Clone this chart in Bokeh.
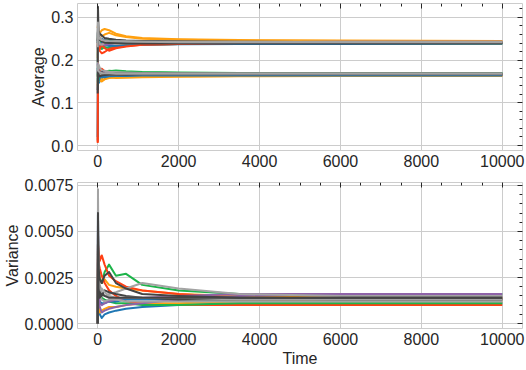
from bokeh.plotting import figure
from bokeh.layouts import column
from bokeh.models import Range1d, FixedTicker, LinearAxis, PrintfTickFormatter
from bokeh.embed import file_html
from bokeh.resources import INLINE

# ---------------- data ----------------
time = [0, 6, 20, 50, 100, 170, 280, 450, 700, 1100, 2000, 3500, 6000, 10000]

x_ticks = [0, 2000, 4000, 6000, 8000, 10000]
avg_ticks = [0.0, 0.1, 0.2, 0.3]
var_ticks = [0.0, 0.0025, 0.005, 0.0075]

BLUE, ORANGE, GREEN, RED, PURPLE, GREY, DARK = (
    "#1f77b4", "#ffa010", "#1db44a", "#ff3f14", "#8e63a8", "#a3a3a3", "#444444")

# upper branch of the running averages
hi_1  = [0.012, 0.262, 0.248, 0.236, 0.232, 0.238, 0.236, 0.240, 0.238, 0.239, 0.240, 0.241, 0.241, 0.241]
hi_2  = [0.205, 0.255, 0.268, 0.264, 0.270, 0.273, 0.270, 0.262, 0.256, 0.252, 0.249, 0.247, 0.246, 0.245]
hi_3  = [0.160, 0.232, 0.228, 0.240, 0.226, 0.231, 0.228, 0.233, 0.236, 0.236, 0.238, 0.239, 0.239, 0.239]
hi_4  = [0.008, 0.214, 0.238, 0.222, 0.216, 0.219, 0.226, 0.230, 0.233, 0.236, 0.238, 0.239, 0.240, 0.240]
hi_5  = [0.265, 0.245, 0.258, 0.250, 0.244, 0.248, 0.246, 0.244, 0.243, 0.244, 0.243, 0.244, 0.243, 0.243]
hi_6  = [0.275, 0.282, 0.258, 0.262, 0.256, 0.260, 0.264, 0.258, 0.254, 0.250, 0.248, 0.246, 0.245, 0.244]
hi_7  = [0.225, 0.236, 0.252, 0.246, 0.240, 0.236, 0.233, 0.234, 0.235, 0.236, 0.237, 0.238, 0.238, 0.239]
hi_8  = [0.240, 0.270, 0.250, 0.242, 0.248, 0.245, 0.247, 0.244, 0.242, 0.242, 0.241, 0.240, 0.240, 0.240]
hi_9  = [0.230, 0.252, 0.230, 0.226, 0.236, 0.228, 0.222, 0.228, 0.232, 0.236, 0.238, 0.240, 0.241, 0.241]
hi_10 = [0.250, 0.228, 0.240, 0.236, 0.238, 0.235, 0.238, 0.240, 0.241, 0.242, 0.242, 0.242, 0.243, 0.243]
hi_11 = [0.240, 0.250, 0.242, 0.252, 0.250, 0.246, 0.244, 0.242, 0.242, 0.241, 0.241, 0.240, 0.240, 0.240]
hi_12 = [0.185, 0.302, 0.262, 0.255, 0.247, 0.243, 0.240, 0.238, 0.239, 0.240, 0.241, 0.241, 0.241, 0.242]
hi_13 = [0.245, 0.325, 0.268, 0.262, 0.258, 0.252, 0.250, 0.248, 0.246, 0.245, 0.244, 0.243, 0.242, 0.242]
hi_14 = [0.210, 0.288, 0.246, 0.238, 0.236, 0.240, 0.242, 0.244, 0.243, 0.243, 0.243, 0.243, 0.243, 0.243]
hi_15 = [0.195, 0.262, 0.254, 0.248, 0.244, 0.241, 0.240, 0.240, 0.239, 0.239, 0.239, 0.239, 0.239, 0.239]
hi_16 = [0.230, 0.275, 0.255, 0.250, 0.247, 0.246, 0.245, 0.244, 0.244, 0.243, 0.242, 0.242, 0.242, 0.242]

# lower branch of the running averages
lo_1  = [0.020, 0.152, 0.146, 0.150, 0.158, 0.162, 0.164, 0.165, 0.166, 0.166, 0.167, 0.167, 0.167, 0.167]
lo_2  = [0.162, 0.172, 0.160, 0.152, 0.150, 0.155, 0.158, 0.160, 0.161, 0.162, 0.162, 0.163, 0.163, 0.163]
lo_3  = [0.168, 0.158, 0.174, 0.176, 0.172, 0.170, 0.174, 0.176, 0.174, 0.172, 0.171, 0.170, 0.170, 0.170]
lo_4  = [0.006, 0.166, 0.184, 0.178, 0.180, 0.174, 0.172, 0.170, 0.169, 0.168, 0.168, 0.167, 0.167, 0.167]
lo_5  = [0.192, 0.178, 0.182, 0.172, 0.168, 0.166, 0.164, 0.165, 0.166, 0.166, 0.166, 0.166, 0.166, 0.166]
lo_6  = [0.140, 0.156, 0.164, 0.158, 0.154, 0.156, 0.160, 0.158, 0.159, 0.160, 0.161, 0.162, 0.163, 0.163]
lo_7  = [0.182, 0.168, 0.150, 0.158, 0.162, 0.164, 0.163, 0.164, 0.165, 0.165, 0.165, 0.165, 0.165, 0.165]
lo_8  = [0.158, 0.146, 0.160, 0.164, 0.168, 0.172, 0.175, 0.174, 0.172, 0.171, 0.170, 0.169, 0.169, 0.169]
lo_9  = [0.176, 0.174, 0.168, 0.176, 0.170, 0.166, 0.168, 0.167, 0.167, 0.166, 0.166, 0.166, 0.166, 0.166]
lo_10 = [0.170, 0.182, 0.176, 0.170, 0.174, 0.171, 0.170, 0.169, 0.169, 0.168, 0.168, 0.168, 0.168, 0.168]
lo_11 = [0.170, 0.162, 0.168, 0.166, 0.162, 0.160, 0.162, 0.163, 0.163, 0.164, 0.164, 0.164, 0.164, 0.164]
lo_12 = [0.150, 0.188, 0.190, 0.182, 0.176, 0.175, 0.173, 0.172, 0.171, 0.170, 0.169, 0.169, 0.169, 0.169]
lo_13 = [0.130, 0.160, 0.176, 0.170, 0.172, 0.168, 0.167, 0.168, 0.168, 0.168, 0.168, 0.168, 0.168, 0.168]
lo_14 = [0.160, 0.178, 0.172, 0.166, 0.168, 0.167, 0.166, 0.166, 0.167, 0.167, 0.167, 0.167, 0.167, 0.167]
lo_15 = [0.122, 0.172, 0.166, 0.162, 0.164, 0.165, 0.166, 0.166, 0.166, 0.167, 0.167, 0.167, 0.167, 0.167]
lo_16 = [0.175, 0.180, 0.174, 0.172, 0.170, 0.169, 0.169, 0.168, 0.168, 0.168, 0.168, 0.168, 0.168, 0.168]

# running variances
var_1  = [0, 0.0062, 0.0012, 0.0005, 0.0003, 0.0005, 0.0006, 0.0007, 0.0008, 0.0009, 0.0010, 0.0011, 0.0011, 0.0011]
var_2  = [0, 0.0040, 0.0032, 0.0025, 0.0022, 0.0024, 0.0021, 0.0020, 0.0019, 0.0018, 0.0016, 0.0015, 0.0014, 0.0014]
var_3  = [0, 0.0030, 0.0026, 0.0024, 0.0022, 0.0028, 0.0032, 0.0026, 0.0027, 0.0021, 0.0018, 0.0016, 0.0016, 0.0016]
var_4  = [0, 0.0043, 0.0040, 0.0034, 0.0037, 0.0032, 0.0026, 0.0023, 0.0020, 0.0018, 0.0016, 0.0014, 0.0013, 0.0013]
var_5  = [0, 0.0054, 0.0018, 0.0009, 0.0006, 0.0007, 0.0008, 0.0009, 0.0010, 0.0011, 0.0013, 0.0015, 0.0016, 0.0015]
var_6  = [0, 0.0036, 0.0033, 0.0030, 0.0026, 0.0022, 0.0018, 0.0015, 0.0012, 0.0011, 0.0010, 0.0010, 0.0010, 0.0010]
var_7  = [0, 0.0028, 0.0012, 0.0006, 0.0007, 0.0008, 0.0009, 0.0009, 0.0010, 0.0011, 0.0011, 0.0012, 0.0012, 0.0012]
var_8  = [0, 0.0024, 0.0019, 0.0016, 0.0014, 0.0013, 0.0012, 0.0011, 0.0011, 0.0010, 0.0010, 0.0011, 0.0011, 0.0011]
var_9  = [0, 0.0020, 0.0015, 0.0012, 0.0011, 0.0011, 0.0012, 0.0012, 0.0013, 0.0013, 0.0013, 0.0014, 0.0013, 0.0013]
var_10 = [0, 0.0034, 0.0016, 0.0011, 0.0010, 0.0011, 0.0012, 0.0013, 0.0014, 0.0014, 0.0015, 0.0016, 0.0016, 0.0016]
var_11 = [0, 0.0073, 0.0032, 0.0021, 0.0017, 0.0015, 0.0016, 0.0017, 0.0019, 0.0022, 0.0019, 0.0016, 0.0015, 0.0015]
var_12 = [0, 0.0060, 0.0024, 0.0017, 0.0015, 0.0018, 0.0017, 0.0016, 0.0015, 0.0014, 0.0013, 0.0013, 0.0013, 0.0013]
var_13 = [0, 0.0046, 0.0024, 0.0018, 0.0019, 0.0017, 0.0015, 0.0014, 0.0014, 0.0014, 0.0014, 0.0013, 0.0013, 0.0013]
var_14 = [0, 0.0050, 0.0030, 0.0024, 0.0022, 0.0026, 0.0028, 0.0022, 0.0019, 0.0016, 0.0015, 0.0014, 0.0014, 0.0014]
var_15 = [0, 0.0038, 0.0020, 0.0015, 0.0013, 0.0012, 0.0013, 0.0013, 0.0012, 0.0012, 0.0012, 0.0012, 0.0012, 0.0012]
var_16 = [0, 0.0044, 0.0019, 0.0014, 0.0016, 0.0015, 0.0014, 0.0014, 0.0014, 0.0014, 0.0014, 0.0014, 0.0014, 0.0014]

line_colors = [BLUE, ORANGE, GREEN, RED, PURPLE, ORANGE, BLUE, GREEN,
               RED, PURPLE, BLUE, GREY, DARK, GREY, DARK, GREY]
avg_hi = [hi_1, hi_2, hi_3, hi_4, hi_5, hi_6, hi_7, hi_8, hi_9, hi_10, hi_11, hi_12, hi_13, hi_14, hi_15, hi_16]
avg_lo = [lo_1, lo_2, lo_3, lo_4, lo_5, lo_6, lo_7, lo_8, lo_9, lo_10, lo_11, lo_12, lo_13, lo_14, lo_15, lo_16]
var_runs = [var_1, var_2, var_3, var_4, var_6, var_7, var_8, var_9, var_5, var_10, var_15,
            var_11, var_12, var_13, var_14, var_16]
var_colors = [BLUE, ORANGE, GREEN, RED, RED, ORANGE, GREEN, BLUE, PURPLE, PURPLE, GREY,
              GREY, DARK, GREY, DARK, DARK]

# ---------------- styling helpers ----------------
FONT = "Liberation Sans"
TXT = "#262626"
GRID = "#cccccc"
X_RANGE = (-500, 10500)

x_minor = [500 * k for k in range(0, 21)]
avg_minor = [round(0.02 * k, 2) for k in range(0, 17)]
var_minor = [round(0.0005 * k, 4) for k in range(0, 16)]


def tick_axis(ticks, minor, loc):
    # axis pinned to the frame edge; its outward ticks point into the frame
    return LinearAxis(
        fixed_location=loc,
        ticker=FixedTicker(ticks=ticks, minor_ticks=minor),
        axis_line_color=None,
        major_label_text_font_size="1px",
        major_label_text_color=None,
        major_label_standoff=0,
        major_tick_in=0, major_tick_out=5,
        minor_tick_in=0, minor_tick_out=3,
        major_tick_line_color=TXT, minor_tick_line_color=TXT,
        major_tick_line_width=1, minor_tick_line_width=1,
    )


def make_fig(height, yr, yticks, yminor, fmt, ylabel, btop, bbottom, xlabel=None):
    p = figure(width=526, height=height, output_backend="svg", toolbar_location=None,
               x_range=Range1d(*X_RANGE), y_range=Range1d(*yr),
               min_border_left=75, min_border_right=4,
               min_border_top=btop, min_border_bottom=bbottom)
    p.background_fill_color = "white"
    p.border_fill_color = "white"
    p.outline_line_color = GRID
    p.outline_line_width = 1
    p.xaxis.ticker = FixedTicker(ticks=x_ticks)
    p.yaxis.ticker = FixedTicker(ticks=yticks)
    p.yaxis.formatter = PrintfTickFormatter(format=fmt)
    for ax in p.axis:
        ax.axis_line_color = None
        ax.major_tick_in = 0
        ax.major_tick_out = 0
        ax.minor_tick_in = 0
        ax.minor_tick_out = 0
        ax.major_label_text_font = FONT
        ax.major_label_text_font_size = "16px"
        ax.major_label_text_color = TXT
        ax.major_label_standoff = 4
        ax.axis_label_text_font = FONT
        ax.axis_label_text_font_size = "16px"
        ax.axis_label_text_font_style = "normal"
        ax.axis_label_text_color = TXT
        ax.axis_label_standoff = 1
    p.yaxis.axis_label = ylabel
    if xlabel:
        p.xaxis.axis_label = xlabel
        p.xaxis.axis_label_standoff = 2
    p.grid.grid_line_color = GRID
    p.grid.grid_line_width = 1
    p.add_layout(tick_axis(x_ticks, x_minor, yr[1]), "below")
    p.add_layout(tick_axis(yticks, yminor, X_RANGE[1]), "left")
    return p


top = make_fig(174, (-0.0117, 0.3327), avg_ticks, avg_minor, "%.1f", "Average", 3, 24)
for ys, c in zip(avg_hi, line_colors):
    top.line(time, ys, line_color=c, line_width=2, line_join="round")
for ys, c in zip(avg_lo, line_colors):
    top.line(time, ys, line_color=c, line_width=2, line_join="round")

bottom = make_fig(196, (-0.00027, 0.00766), var_ticks, var_minor, "%.4f", "Variance", 8, 42, "Time")
for ys, c in zip(var_runs, var_colors):
    bottom.line(time, ys, line_color=c, line_width=2, line_join="round")

layout = column(top, bottom, spacing=0)
open("out.html", "w").write(file_html(layout, INLINE))
